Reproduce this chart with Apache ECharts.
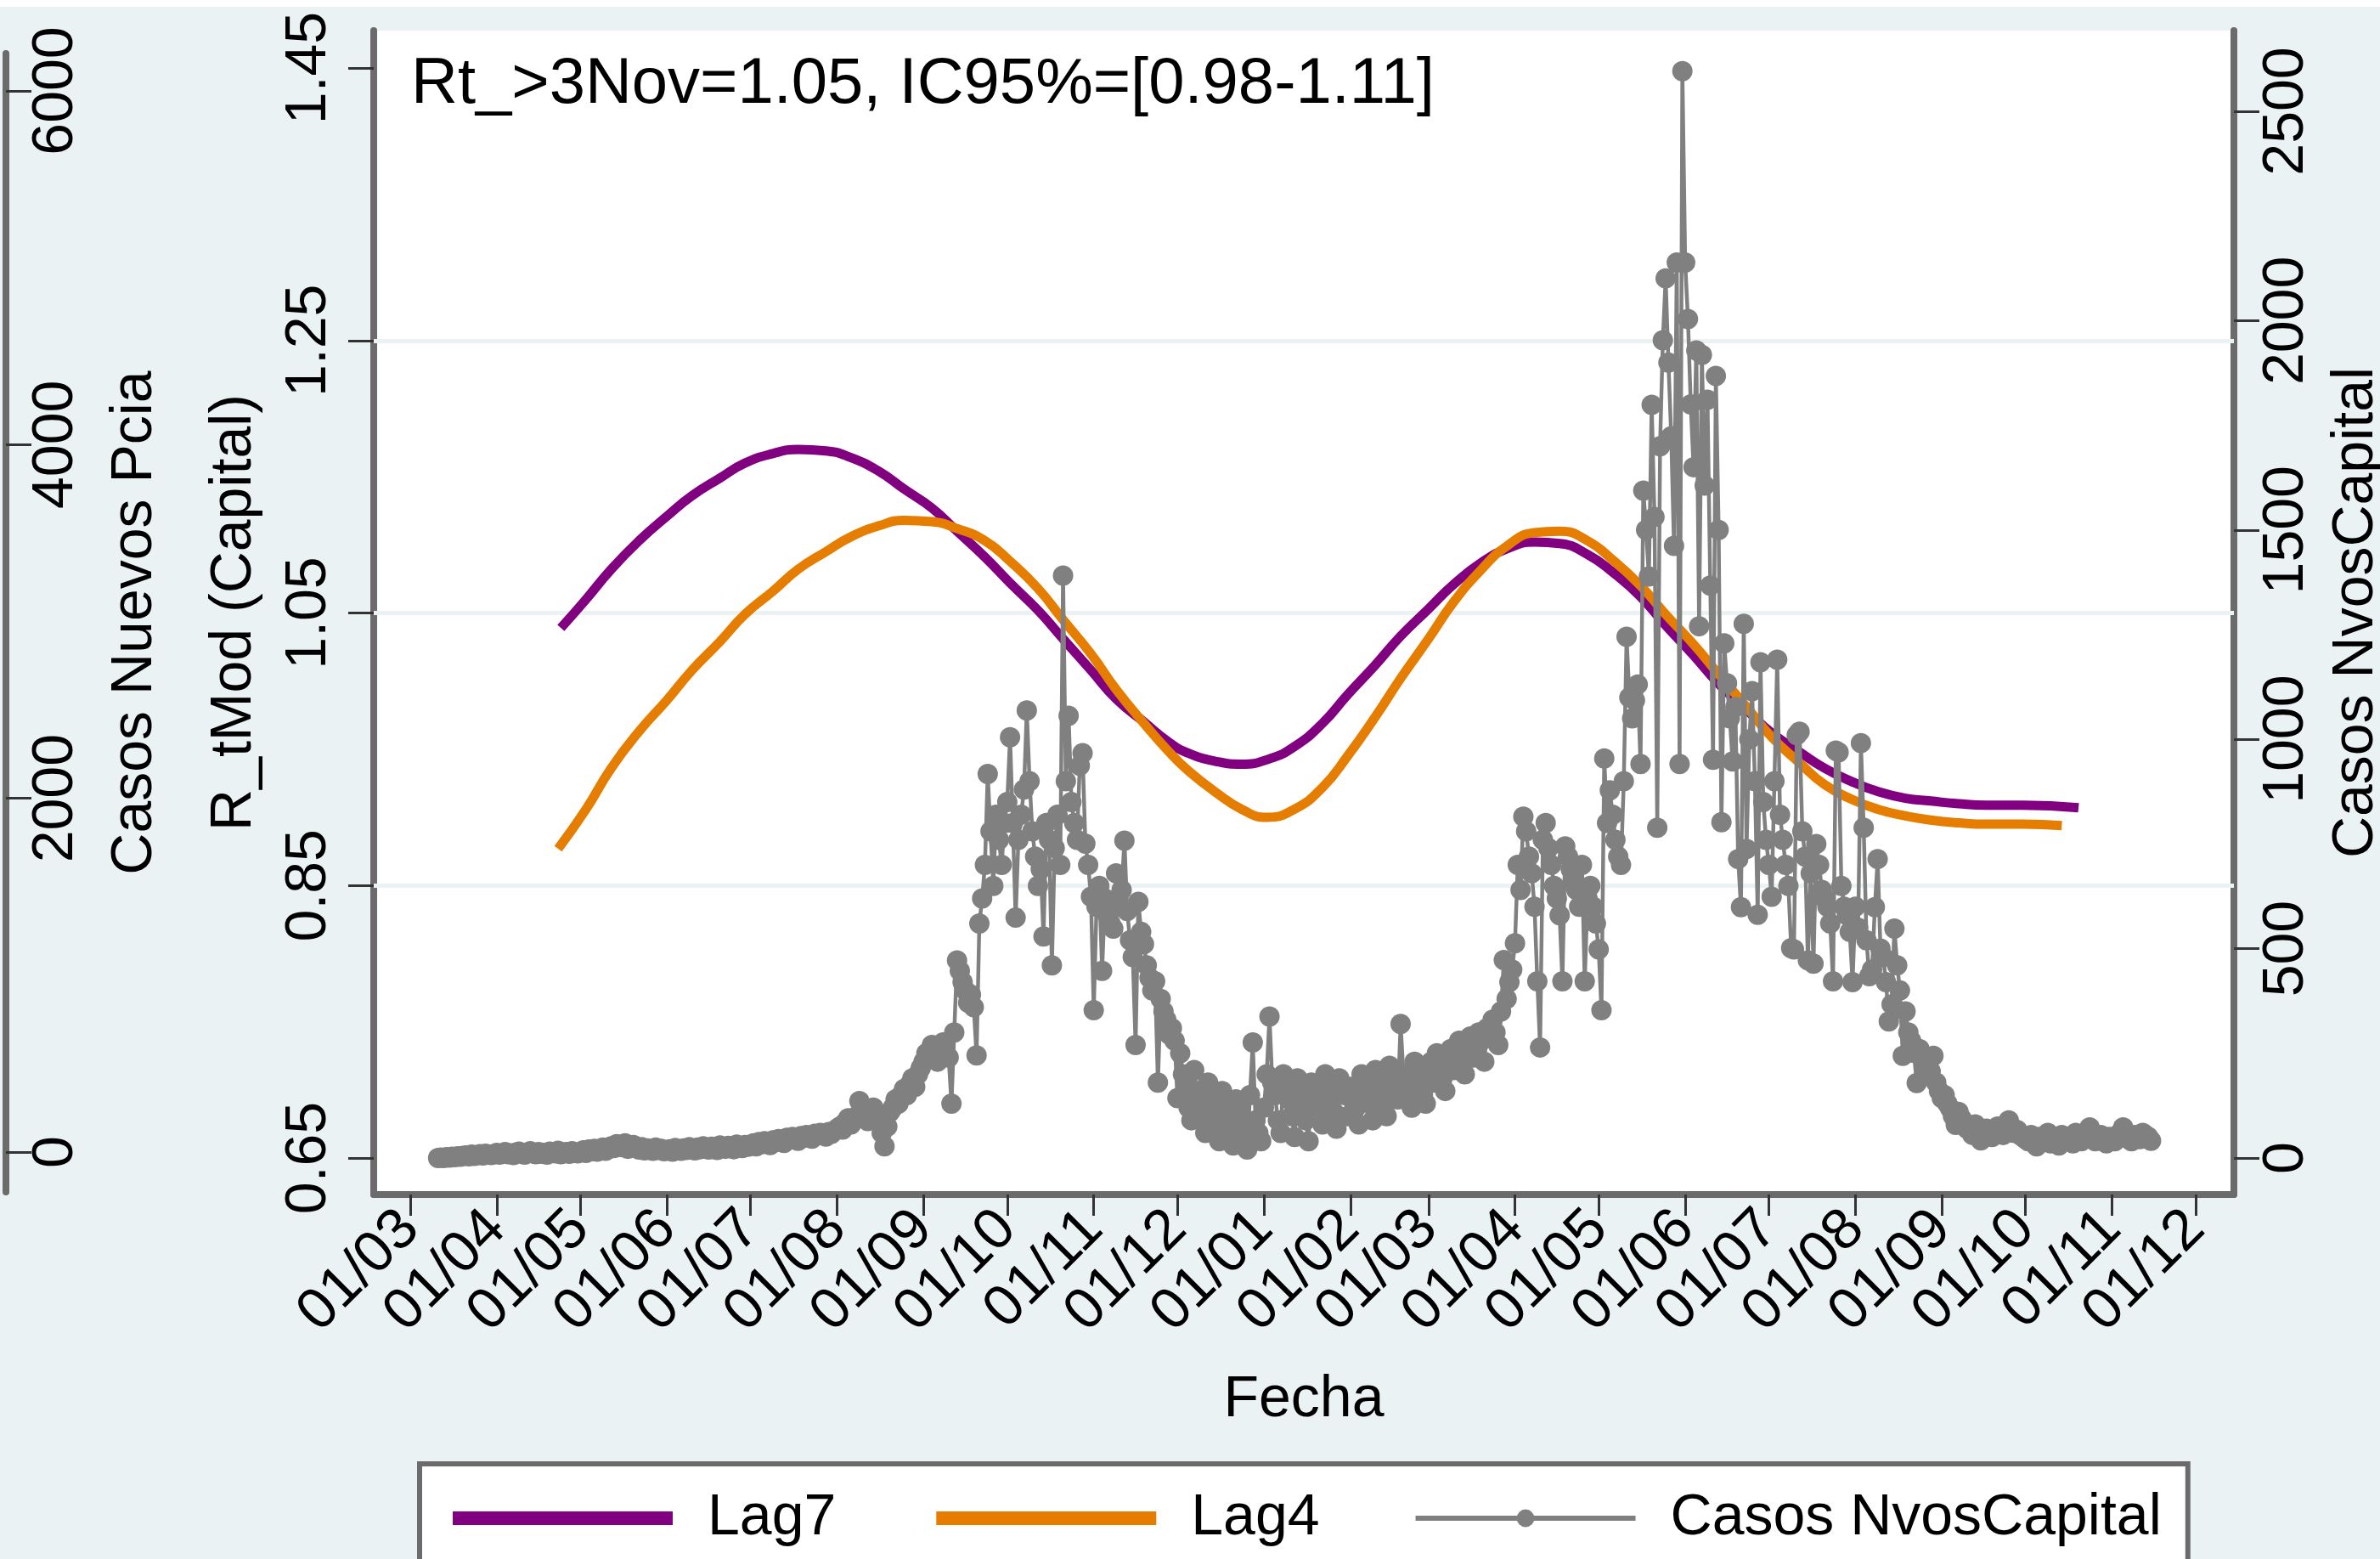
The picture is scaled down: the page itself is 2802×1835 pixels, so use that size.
<!DOCTYPE html>
<html>
<head>
<meta charset="utf-8">
<title>Rt Capital</title>
<script src="https://cdn.jsdelivr.net/npm/echarts@6/dist/echarts.min.js"></script>
<style>
  html, body { margin: 0; padding: 0; background: #eaf2f3; }
  #chart { width: 2802px; height: 1835px; }
</style>
</head>
<body>
<div id="chart"></div>
<script>
// eje de fechas: primer dia de cada mes
const tickDates = ['2020-03-01','2020-04-01','2020-05-01','2020-06-01','2020-07-01','2020-08-01','2020-09-01','2020-10-01','2020-11-01','2020-12-01',
  '2021-01-01','2021-02-01','2021-03-01','2021-04-01','2021-05-01','2021-06-01','2021-07-01','2021-08-01','2021-09-01','2021-10-01','2021-11-01','2021-12-01'];
const tickLabels = ['01/03','01/04','01/05','01/06','01/07','01/08','01/09','01/10','01/11','01/12',
  '01/01','01/02','01/03','01/04','01/05','01/06','01/07','01/08','01/09','01/10','01/11','01/12'];

const rTicks = [0.65, 0.85, 1.05, 1.25, 1.45];
const rGridLines = [0.85, 1.05, 1.25];
const capitalTicks = [0, 500, 1000, 1500, 2000, 2500];
const pciaTicks = [0, 2000, 4000, 6000];

// R_t suavizado (x = dias desde 01/03/2020)
const lag7Day = [54,63,72,82,92,101,111,120,130,139,149,158,168,177,187,196,206,215,225,234,244,253,263,272,
  279,289,298,308,317,327,336,346,355,365,374,384,393,403,412,422,431,441,450,460,469,479,488,498,507,517,526,536,545,555,565,578,598];
const lag7R = [1.039,1.060,1.082,1.103,1.121,1.136,1.149,1.160,1.167,1.170,1.169,1.164,1.154,1.141,1.127,1.110,1.091,1.072,1.052,1.031,1.008,0.987,0.970,0.955,
  0.947,0.941,0.939,0.943,0.952,0.969,0.990,1.012,1.033,1.053,1.071,1.087,1.097,1.102,1.101,1.093,1.080,1.062,1.041,1.019,0.998,0.979,0.962,0.948,0.936,0.926,0.919,0.914,0.912,0.910,0.909,0.909,0.907];

const lag4Day = [53,63,72,82,92,101,111,120,130,139,149,158,168,177,187,196,206,215,225,234,244,253,263,272,
  279,289,298,307,317,327,336,346,355,365,374,384,393,403,412,422,431,441,450,460,469,479,488,498,507,517,526,536,545,555,565,578,592];
const lag4R = [0.877,0.906,0.936,0.963,0.986,1.008,1.029,1.049,1.066,1.082,1.095,1.106,1.114,1.118,1.117,1.112,1.103,1.088,1.068,1.045,1.020,0.994,0.969,0.948,
  0.934,0.918,0.906,0.900,0.906,0.922,0.945,0.974,1.002,1.031,1.058,1.082,1.099,1.109,1.110,1.103,1.089,1.070,1.049,1.027,1.005,0.981,0.959,0.940,0.924,0.913,0.906,0.901,0.898,0.896,0.895,0.895,0.894];

// casos nuevos diarios en Capital, desde 11/03/2020
const casosStart = '2020-03-11';
const casosCapital = [
  // mar 2020
  0,1,0,2,1,3,2,4,3,5,6,4,8,5,7,9,6,10,8,7,9,
  // abr
  12,8,10,14,9,11,7,13,15,10,8,12,16,11,9,14,10,12,8,15,13,11,17,9,12,14,10,16,12,11,
  // may
  14,18,12,20,16,22,15,19,25,17,21,28,24,33,30,26,35,22,27,31,24,20,26,18,23,21,17,25,19,22,16,
  // jun
  18,21,15,24,20,17,23,19,26,22,18,25,21,28,24,20,27,23,19,30,26,22,29,25,21,32,28,24,31,27,
  // jul
  30,35,28,38,33,40,36,31,42,38,45,40,36,48,44,50,46,41,52,48,55,50,46,58,54,60,56,51,62,58,65,
  // ago
  70,75,68,85,95,80,90,100,136,110,95,88,105,120,98,85,60,28,75,110,120,140,130,150,165,150,175,190,170,200,215,
  // sep
  230,250,240,270,255,230,260,276,250,240,130,300,472,447,420,400,371,390,360,245,560,620,700,917,780,650,820,760,700,800,
  // oct
  850,1005,800,574,760,820,880,1069,900,780,720,650,690,529,800,760,460,740,820,700,1391,900,1056,850,800,760,937,967,751,700,624,
  // nov
  353,600,650,447,620,580,560,548,680,600,640,758,590,520,480,270,612,540,511,460,430,400,422,180,380,350,330,295,310,280,
  // dic
  143,250,200,180,120,90,210,160,140,100,60,180,150,120,80,40,160,130,110,70,30,140,120,100,60,20,150,276,90,60,40,
  // ene 2021
  120,200,338,180,150,90,60,200,170,140,100,50,190,160,130,90,40,180,150,170,120,80,200,160,140,110,70,190,170,150,100,
  // feb
  170,150,120,80,200,180,160,130,90,210,180,150,120,100,220,190,170,140,320,200,180,150,120,230,200,180,150,130,
  // mar
  200,230,180,250,220,190,160,240,260,210,230,280,250,200,270,290,240,260,300,280,230,310,290,330,300,270,350,473,380,420,450,
  // abr
  513,700,640,815,780,720,680,600,422,264,760,800,740,700,650,620,580,422,744,720,690,660,640,600,700,422,620,650,600,560,
  // may
  498,353,954,800,878,820,760,720,700,900,1245,1100,1050,1093,1131,941,1594,1500,1389,1799,1531,789,1700,1953,2101,1900,1724,1462,2139,941,2596,
  // jun
  2139,2004,1800,1650,1929,1270,1918,1606,1811,1367,951,1868,1500,802,1229,1134,1050,947,1077,714,599,1276,738,1000,1115,900,581,1184,850,760,
  // jul
  700,624,900,1190,820,760,700,650,501,498,1010,1018,780,720,472,680,464,750,700,640,620,600,560,422,973,969,650,600,580,540,420,
  // ago
  600,550,991,789,520,434,450,599,714,500,480,420,326,367,548,460,400,244,350,300,280,251,179,260,240,220,200,207,244,180,160,
  // sep
  143,150,130,118,100,79,110,95,85,70,75,55,80,65,42,60,70,55,50,65,75,60,55,80,90,70,60,67,55,50,
  // oct
  45,40,55,35,28,50,45,40,60,35,45,50,30,55,40,50,45,35,60,50,40,45,55,73,50,40,45,55,40,35,50,
  // nov
  45,40,55,60,73,50,45,40,55,50,45,60,55,50,41
];

// dias desde 01/03/2020
const day0 = Date.UTC(2020, 2, 1);
function dayOf(s) {
  const p = s.split('-');
  return (Date.UTC(+p[0], +p[1] - 1, +p[2]) - day0) / 86400000;
}

const tickDays = tickDates.map(dayOf);
const labelByDay = {};
tickDays.forEach((d, i) => { labelByDay[d] = tickLabels[i]; });

const lag7Data = lag7Day.map((d, i) => [d, lag7R[i]]);
const lag4Data = lag4Day.map((d, i) => [d, lag4R[i]]);
const startDay = dayOf(casosStart);
const casosData = casosCapital.map((v, i) => [startDay + i, v]);

const FONT = 'Liberation Sans';
const AXIS_LINE = { show: true, onZero: false, lineStyle: { color: '#6b6b6b', width: 8 } };
const TICK_STYLE = { color: '#333', width: 3 };
const NAME_STYLE = { fontSize: 68, color: '#000', fontFamily: FONT };

const chart = echarts.init(document.getElementById('chart'));
chart.setOption({
  animation: false,
  backgroundColor: '#eaf2f3',
  textStyle: { fontFamily: FONT },
  grid: [
    { left: 440, right: 172, top: 36, bottom: 429, show: true, backgroundColor: '#ffffff', borderWidth: 0, outerBoundsMode: 'none' },
    { left: 0, width: 7, top: 63, height: 1340, show: false, outerBoundsMode: 'none' }
  ],
  graphic: [
    { type: 'rect', left: 0, top: 0, shape: { width: 2802, height: 8 }, style: { fill: '#ffffff' }, z: 0 },
    { type: 'text', left: 484, top: 62,
      style: { text: 'Rt_>3Nov=1.05, IC95%=[0.98-1.11]', font: '76px "Liberation Sans"', fill: '#000' }, z: 10 }
  ],
  legend: {
    left: 494, top: 1723,
    padding: [30, 31, 60, 31],
    backgroundColor: '#ffffff',
    borderColor: '#6b6b6b', borderWidth: 6,
    itemWidth: 259, itemHeight: 26, itemGap: 110,
    textStyle: { fontSize: 68, color: '#000', fontFamily: FONT, padding: [0, 0, 0, 36] },
    data: [
      { name: 'Lag7', lineStyle: { width: 16 }, itemStyle: { opacity: 0 } },
      { name: 'Lag4', lineStyle: { width: 16 }, itemStyle: { opacity: 0 } },
      { name: 'Casos NvosCapital', lineStyle: { width: 6 } }
    ]
  },
  xAxis: [
    {
      type: 'value', gridIndex: 0,
      min: -13.09, max: 653.7,
      name: 'Fecha', nameLocation: 'middle', nameGap: 208,
      nameTextStyle: NAME_STYLE,
      axisLine: AXIS_LINE,
      axisTick: { show: true, length: 25, lineStyle: TICK_STYLE, customValues: tickDays },
      axisLabel: {
        rotate: 45, margin: 30, fontSize: 68, color: '#000', fontFamily: FONT, hideOverlap: false,
        customValues: tickDays,
        formatter: v => labelByDay[Math.round(v)] || ''
      },
      splitLine: { show: false }
    },
    { type: 'value', gridIndex: 1, min: 0, max: 1, show: false }
  ],
  yAxis: [
    {
      type: 'value', gridIndex: 0, position: 'left',
      min: 0.62319, max: 1.47744,
      name: 'R_tMod (Capital)', nameLocation: 'middle', nameGap: 130,
      nameTextStyle: NAME_STYLE,
      axisLine: AXIS_LINE,
      axisTick: { show: true, length: 30, lineStyle: TICK_STYLE, customValues: rTicks },
      axisLabel: {
        rotate: 90, margin: 42, fontSize: 68, color: '#000', fontFamily: FONT,
        customValues: rTicks, formatter: v => v.toFixed(2)
      },
      splitLine: { show: false }
    },
    {
      type: 'value', gridIndex: 0, position: 'right',
      min: -87.3, max: 2692.8,
      name: 'Casos NvosCapital', nameLocation: 'middle', nameGap: 110,
      nameTextStyle: NAME_STYLE,
      axisLine: AXIS_LINE,
      axisTick: { show: true, length: 30, lineStyle: TICK_STYLE, customValues: capitalTicks },
      axisLabel: {
        rotate: 90, margin: 28, fontSize: 68, color: '#000', fontFamily: FONT,
        customValues: capitalTicks, formatter: v => String(Math.round(v))
      },
      splitLine: { show: false }
    },
    {
      type: 'value', gridIndex: 1, position: 'right',
      min: -225.8, max: 6211.4,
      name: 'Casos Nuevos Pcia', nameLocation: 'middle', nameGap: 118,
      nameTextStyle: NAME_STYLE,
      axisLine: AXIS_LINE,
      axisTick: { show: true, length: 30, lineStyle: TICK_STYLE, customValues: pciaTicks },
      axisLabel: {
        rotate: 90, margin: 25, fontSize: 68, color: '#000', fontFamily: FONT,
        customValues: pciaTicks, formatter: v => String(Math.round(v))
      },
      splitLine: { show: false }
    }
  ],
  series: [
    {
      // lineas de grilla en los ticks interiores de R
      type: 'line', xAxisIndex: 0, yAxisIndex: 0, data: [], silent: true, z: 1,
      markLine: {
        z: 1, silent: true, symbol: 'none', label: { show: false },
        lineStyle: { color: '#eaf2f3', width: 5, type: 'solid' },
        data: rGridLines.map(v => ({ yAxis: v }))
      }
    },
    {
      name: 'Lag7', type: 'line', xAxisIndex: 0, yAxisIndex: 0,
      data: lag7Data, smooth: 0.5, symbol: 'none',
      lineStyle: { color: '#800080', width: 11 }, itemStyle: { color: '#800080' }
    },
    {
      name: 'Lag4', type: 'line', xAxisIndex: 0, yAxisIndex: 0,
      data: lag4Data, smooth: 0.5, symbol: 'none',
      lineStyle: { color: '#e57e00', width: 11 }, itemStyle: { color: '#e57e00' }
    },
    {
      name: 'Casos NvosCapital', type: 'line', xAxisIndex: 0, yAxisIndex: 1,
      data: casosData, symbol: 'circle', symbolSize: 24, showSymbol: true, showAllSymbol: true,
      lineStyle: { color: '#808080', width: 4.5 }, itemStyle: { color: '#808080' }
    }
  ]
});
</script>
</body>
</html>
